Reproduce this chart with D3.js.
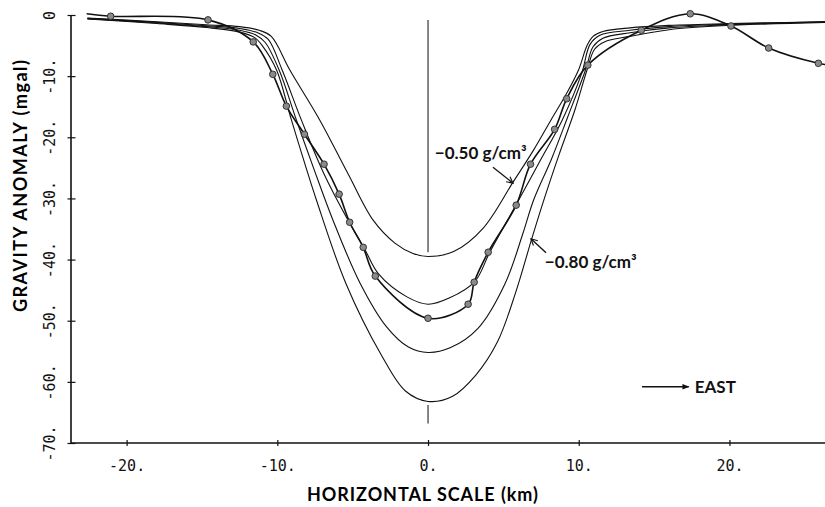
<!DOCTYPE html>
<html><head><meta charset="utf-8">
<script src="https://cdn.jsdelivr.net/npm/d3@7"></script>
<style>
html,body{margin:0;padding:0;background:#fff;}
svg{display:block;}
</style></head>
<body>
<svg id="chart" width="825" height="507"></svg>
<script>
// ---- Data ----
const xTicks = [-20, -10, 0, 10, 20];
const xTickLabels = ["-20.", "-10.", "0.", "10.", "20."];
const yTicks = [0, -10, -20, -30, -40, -50, -60, -70];
const yTickLabels = ["0", "-10.", "-20.", "-30.", "-40.", "-50.", "-60.", "-70."];

// Observed gravity profile (stations); first and last entries are line ends without a station marker
const obsX = [-22.65, -21.06, -14.6, -11.6, -10.3, -9.4, -8.2, -6.9, -5.9, -5.2, -4.3, -3.5, 0, 2.66, 3.06, 3.99, 5.85, 6.8, 8.4, 9.2, 10.6, 14.15, 17.4, 20.1, 22.6, 25.9, 26.4];
const obsY = [0.2, -0.2, -0.8, -4.4, -9.7, -14.9, -19.5, -24.4, -29.3, -33.9, -38.0, -42.7, -49.6, -47.3, -43.7, -38.8, -31.1, -24.4, -18.7, -13.7, -8.2, -2.5, 0.2, -1.8, -5.4, -7.9, -8.1];

// Model curves for density contrasts -0.50, -0.60, -0.70, -0.80 g/cm3
const modelA_x = [-22.6, -18, -14.7, -12.5, -11.2, -10.4, -9.17, -7.18, -5.3, -3.63, -2.2, -1.0, 0, 1.7, 3.65, 5.65, 7.0, 8.15, 9.2, 10.0, 10.55, 10.95, 11.6, 13.4, 16, 20, 26.4];
const modelA_y = [-0.5, -1.1, -1.6, -1.9, -2.5, -3.5, -9.0, -17.2, -26.0, -33.6, -37.3, -39.0, -39.5, -38.7, -34.9, -27.3, -22.1, -17.2, -12.8, -8.9, -5.0, -3.5, -2.7, -2.1, -1.7, -1.4, -1.1];
const modelB_x = [-22.6, -18, -14.7, -12.5, -11.3, -10.6, -9.68, -8.4, -6.9, -5.3, -4.2, -3.3, -1.4, 0, 1.4, 3.1, 4.1, 5.9, 7.4, 8.9, 10.2, 10.75, 11.4, 13.4, 16, 20, 26.4];
const modelB_y = [-0.55, -1.2, -1.75, -2.2, -2.9, -4.0, -9.0, -17.2, -26.0, -33.6, -38.3, -42.3, -46.1, -47.3, -46.3, -43.6, -38.8, -30.8, -24.0, -17.2, -9.5, -4.8, -3.3, -2.5, -1.9, -1.5, -1.1];
const modelC_x = [-22.6, -18, -14.7, -12.5, -11.4, -10.8, -9.88, -8.73, -7.6, -6.3, -4.5, -2.75, -1.3, 0, 1.5, 3.3, 5.1, 6.3, 7.0, 8.2, 9.25, 10.45, 10.95, 11.6, 13.4, 16, 20, 26.4];
const modelC_y = [-0.6, -1.3, -1.9, -2.5, -3.3, -4.5, -9.0, -17.2, -25.0, -33.6, -43.9, -51.0, -54.3, -55.2, -54.4, -51.3, -44.0, -35.7, -30.3, -23.5, -16.8, -9.0, -5.2, -3.8, -2.9, -2.1, -1.6, -1.15];
const modelD_x = [-22.6, -18, -14.7, -12.5, -11.5, -11.0, -10.05, -9.06, -7.4, -5.45, -3.1, -1.5, 0, 1.6, 3.2, 4.6, 5.8, 6.87, 7.64, 8.7, 9.75, 10.55, 11.05, 11.7, 13.4, 16, 20, 26.4];
const modelD_y = [-0.65, -1.4, -2.05, -2.8, -3.7, -5.0, -9.0, -17.2, -30.3, -43.9, -55.6, -61.5, -63.2, -62.4, -58.8, -53.5, -45.5, -36.7, -30.6, -22.8, -15.5, -9.0, -5.6, -4.4, -3.5, -2.4, -1.7, -1.2];

// Centre reference line at x = 0 (two segments, y ranges)
const centreSegments = [[-0.8, -38.8], [-63.8, -66.8]];

// ---- Chart ----
const svg = d3.select("#chart");
const x = d3.scaleLinear().domain([-23.69, 26.34]).range([71, 825]);
const y = d3.scaleLinear().domain([-70, 0]).range([443, 15]);

const tickFont = "'DejaVu Sans Mono', monospace";
const boldFont = "Lato, 'DejaVu Sans', sans-serif";

// axes
const xAxis = svg.append("g").attr("transform", `translate(0,${y(-70)})`)
  .call(d3.axisBottom(x).tickValues(xTicks).tickSize(3).tickFormat((d, i) => xTickLabels[i]));
xAxis.select(".domain").attr("d", `M${x.range()[0]},0H${x.range()[1]}`).attr("stroke-width", 1.6);
xAxis.selectAll(".tick line").attr("y1", -3).attr("y2", 3).attr("stroke-width", 1.2);
xAxis.selectAll(".tick text").attr("y", 28).attr("dy", 0)
  .attr("font-family", tickFont).attr("font-size", 15).attr("fill", "#111");

const yAxis = svg.append("g").attr("transform", `translate(${x(-23.69)},0)`)
  .call(d3.axisLeft(y).tickValues(yTicks).tickSize(3).tickFormat((d, i) => yTickLabels[i]));
yAxis.select(".domain").attr("d", `M0,${y(0)}V${y(-70)}`).attr("stroke-width", 1.6);
yAxis.selectAll(".tick line").attr("x1", -3.5).attr("x2", 4.5).attr("stroke-width", 1.2);
yAxis.selectAll(".tick text")
  .attr("x", null).attr("dy", null)
  .attr("text-anchor", "middle")
  .attr("transform", "translate(-16,0) rotate(-90)")
  .attr("font-family", tickFont).attr("font-size", 15).attr("fill", "#111");
svg.selectAll(".domain, .tick line").attr("stroke", "#111");

// axis titles
svg.append("text")
  .attr("transform", `translate(27,186) rotate(-90)`)
  .attr("text-anchor", "middle")
  .attr("font-family", boldFont).attr("font-weight", "bold").attr("font-size", 18)
  .attr("textLength", 252).attr("lengthAdjust", "spacing")
  .text("GRAVITY  ANOMALY (mgal)");
svg.append("text")
  .attr("x", 307).attr("y", 501)
  .attr("font-family", boldFont).attr("font-weight", "bold").attr("font-size", 18)
  .attr("textLength", 231).attr("lengthAdjust", "spacing")
  .text("HORIZONTAL  SCALE (km)");

// centre line
svg.selectAll(".centre").data(centreSegments).enter().append("line")
  .attr("x1", x(0)).attr("x2", x(0))
  .attr("y1", d => y(d[0])).attr("y2", d => y(d[1]))
  .attr("stroke", "#222").attr("stroke-width", 1.1);

// model curves
const models = [
  {xs: modelA_x, ys: modelA_y},
  {xs: modelB_x, ys: modelB_y},
  {xs: modelC_x, ys: modelC_y},
  {xs: modelD_x, ys: modelD_y}
];
const modelLine = d3.line().x(d => x(d[0])).y(d => y(d[1])).curve(d3.curveCatmullRom.alpha(0.5));
svg.selectAll(".model").data(models).enter().append("path")
  .attr("d", m => modelLine(m.xs.map((v, i) => [v, m.ys[i]])))
  .attr("fill", "none").attr("stroke", "#111").attr("stroke-width", 1.1);

// observed profile
const obs = obsX.map((v, i) => [v, obsY[i]]);
const obsLine = d3.line().x(d => x(d[0])).y(d => y(d[1])).curve(d3.curveCatmullRom.alpha(0.5));
svg.append("path").attr("d", obsLine(obs))
  .attr("fill", "none").attr("stroke", "#111").attr("stroke-width", 1.6);
svg.selectAll(".stn").data(obs.slice(1, -1)).enter().append("circle")
  .attr("cx", d => x(d[0])).attr("cy", d => y(d[1])).attr("r", 3.3)
  .attr("fill", "#8a8a8a").attr("stroke", "#333").attr("stroke-width", 1);

// annotations
const defs = svg.append("defs");
defs.append("marker").attr("id", "openArrow").attr("viewBox", "0 0 10 10")
  .attr("refX", 9).attr("refY", 5).attr("markerWidth", 8).attr("markerHeight", 8)
  .attr("markerUnits", "userSpaceOnUse").attr("orient", "auto")
  .append("path").attr("d", "M1,1L9,5L1,9").attr("fill", "none").attr("stroke", "#111").attr("stroke-width", 1.4);
defs.append("marker").attr("id", "solidArrow").attr("viewBox", "0 0 10 10")
  .attr("refX", 9).attr("refY", 5).attr("markerWidth", 9).attr("markerHeight", 7)
  .attr("markerUnits", "userSpaceOnUse").attr("orient", "auto")
  .append("path").attr("d", "M0,1L10,5L0,9Z").attr("fill", "#111");

function label(tx, ty, str) {
  svg.append("text").attr("x", x(tx)).attr("y", y(ty))
    .attr("font-family", boldFont).attr("font-weight", "bold").attr("font-size", 17)
    .attr("fill", "#111").text(str);
}
function arrow(x1, y1, x2, y2, mk) {
  svg.append("line").attr("x1", x(x1)).attr("y1", y(y1)).attr("x2", x(x2)).attr("y2", y(y2))
    .attr("stroke", "#111").attr("stroke-width", 1.3).attr("marker-end", `url(#${mk})`);
}
label(0.45, -23.6, "−0.50 g/cm³");
arrow(4.31, -24.9, 5.64, -27.5, "openArrow");
label(7.75, -41.4, "−0.80 g/cm³");
arrow(7.83, -38.9, 6.83, -36.6, "openArrow");
arrow(14.2, -60.8, 17.3, -60.8, "solidArrow");
label(17.7, -61.8, "EAST");
</script>
</body></html>
